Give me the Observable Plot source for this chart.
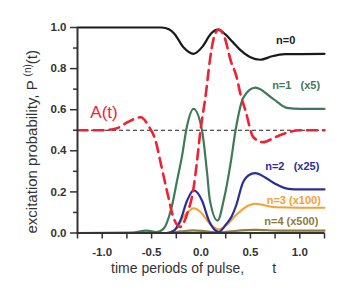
<!DOCTYPE html>
<html><head><meta charset="utf-8">
<script src="https://cdn.jsdelivr.net/npm/d3@7"></script>
<script src="https://cdn.jsdelivr.net/npm/@observablehq/plot@0.6"></script>
<style>body{margin:0;background:#fff}</style>
</head><body><div id="chart"></div>
<script>
// n=0
const t0 = [-1.25,-0.4,-0.32,-0.27,-0.18,-0.075,0.02,0.1,0.17,0.25,0.32,0.4,0.5,0.6,0.72,0.85,1.25];
const p0 = [1,1,0.99,0.97,0.905,0.872,0.91,0.97,0.99,0.965,0.93,0.89,0.855,0.843,0.86,0.87,0.872];
// n=1 (x5)
const t1 = [-1.25,-0.7,-0.55,-0.45,-0.38,-0.3,-0.24,-0.19,-0.15,-0.075,0.01,0.06,0.09,0.168,0.23,0.3,0.35,0.43,0.55,0.73,0.87,1.0,1.25];
const p1 = [0,0.002,0.012,0.004,0.02,0.12,0.26,0.38,0.5,0.604,0.5,0.3,0.16,0.06,0.16,0.34,0.5,0.66,0.707,0.653,0.609,0.604,0.604];
// n=2 (x25)
const t2 = [-1.25,-0.35,-0.28,-0.21,-0.14,-0.075,0.01,0.08,0.18,0.25,0.31,0.36,0.42,0.48,0.55,0.65,0.75,0.885,1.0,1.25];
const p2 = [0,0,0.01,0.06,0.158,0.207,0.158,0.06,0.006,0.04,0.08,0.14,0.24,0.28,0.291,0.27,0.24,0.215,0.212,0.212];
// n=3 (x100)
const t3 = [-1.25,-0.35,-0.3,-0.24,-0.18,-0.12,-0.075,0.0,0.08,0.18,0.25,0.35,0.48,0.55,0.75,1.0,1.25];
const p3 = [0,0,0.005,0.025,0.077,0.108,0.12,0.1,0.05,0.018,0.035,0.085,0.134,0.142,0.125,0.123,0.123];
// n=4 (x500)
const t4 = [-1.25,-0.35,-0.2,-0.08,0.05,0.18,0.3,0.55,0.8,1.25];
const p4 = [0,0,0.008,0.013,0.008,0.003,0.008,0.015,0.012,0.012];
// A(t)
const tA = [-1.25,-1.0,-0.85,-0.74,-0.61,-0.53,-0.46,-0.41,-0.33,-0.28,-0.21,-0.14,-0.075,-0.04,-0.01,0.05,0.09,0.13,0.18,0.24,0.3,0.36,0.4,0.45,0.53,0.63,0.75,0.885,1.0,1.25];
const pA = [0.5,0.5,0.51,0.54,0.563,0.52,0.45,0.345,0.174,0.077,0.03,0.093,0.22,0.35,0.48,0.68,0.84,0.95,0.99,0.95,0.84,0.76,0.675,0.596,0.466,0.442,0.466,0.49,0.5,0.5];

const yMajor = [0,0.2,0.4,0.6,0.8,1.0];
const yMinor = [0.1,0.3,0.5,0.7,0.9];
const xMajor = [-1,-0.5,0,0.5,1];
const xMinor = [-1.25,-0.75,-0.25,0.25,0.75,1.25];

const labels = ["n=0","n=1   (x5)","n=2   (x25)","n=3 (x100)","n=4 (x500)","A(t)"];
const colors = ["#1a1a1a","#3f7a58","#2b2e98","#f7a030","#8c7a3c","#ee2233"];

const tbl = (ts, ps) => ts.map((t,i)=>({t, v: ps[i]}));
const curve = "monotone-x";

const labelPos = [
  {t:0.76, v:0.935}, {t:0.72, v:0.716}, {t:0.65, v:0.322},
  {t:0.665, v:0.160}, {t:0.64, v:0.055}, {t:-1.12, v:0.585}
];
const labelData = labels.map((s,i)=>({s, c: colors[i], ...labelPos[i]}));

const plot = Plot.plot({
  width: 350, height: 301,
  marginLeft: 77, marginRight: 26, marginTop: 27, marginBottom: 68.5,
  style: {fontFamily: "'Liberation Sans', Arial, sans-serif", color: "#333", background: "#fff"},
  x: {domain: [-1.25, 1.25]},
  y: {domain: [0, 1]},
  marks: [
    Plot.ruleY([0.5], {stroke: "#222", strokeWidth: 1.1, strokeDasharray: "4,3"}),
    Plot.line(tbl(t0,p0), {x:"t", y:"v", stroke: colors[0], strokeWidth: 2.2, curve}),
    Plot.line(tbl(t1,p1), {x:"t", y:"v", stroke: colors[1], strokeWidth: 2.2, curve}),
    Plot.line(tbl(t4,p4), {x:"t", y:"v", stroke: colors[4], strokeWidth: 2.2, curve}),
    Plot.line(tbl(t3,p3), {x:"t", y:"v", stroke: colors[3], strokeWidth: 2.0, curve}),
    Plot.line(tbl(t2,p2), {x:"t", y:"v", stroke: colors[2], strokeWidth: 2.2, curve}),
    Plot.line(tbl(tA,pA), {x:"t", y:"v", stroke: colors[5], strokeWidth: 2.6, strokeDasharray: "10,6", curve}),
    Plot.ruleX([-1.25], {y1: 0, y2: 1, stroke: "#333", strokeWidth: 2}),
    Plot.ruleY([0], {stroke: "#333", strokeWidth: 2}),
    Plot.axisY({ticks: yMajor, tickFormat: d => d.toFixed(1), tickSize: 7, tickPadding: 4, fontSize: 11.5, fontWeight: "bold", label: null, strokeWidth: 1.5}),
    Plot.axisY({ticks: yMinor, tickSize: 4, text: null, label: null, strokeWidth: 1.5}),
    Plot.axisX({ticks: xMajor, tickFormat: d => d.toFixed(1), tickSize: 6, tickPadding: 9, fontSize: 11.5, fontWeight: "bold", label: null, strokeWidth: 1.5}),
    Plot.axisX({ticks: xMinor, tickSize: 6, text: null, label: null, strokeWidth: 1.5}),
    Plot.text(labelData.slice(0,5), {x:"t", y:"v", text:"s", fill:"c", textAnchor:"start", fontSize: 11, fontWeight:"bold"}),
    Plot.text(labelData.slice(5), {x:"t", y:"v", text:"s", fill:"c", textAnchor:"start", fontSize: 17}),
    Plot.text([{t:-0.91, v:-0.175, s:"time periods of pulse,"}, {t:0.72, v:-0.175, s:"t"}], {x:"t", y:"v", text:"s", textAnchor:"start", fontSize: 14, fill:"#333"})
  ]
});
document.getElementById("chart").append(plot);

// y-axis title with superscript
const ys = plot.scale("y");
const svg = d3.select(plot);
const yc = (ys.apply(0) + ys.apply(1)) / 2 + 12;
const tx = svg.append("text")
  .attr("transform", `translate(37,${yc}) rotate(-90)`)
  .attr("text-anchor", "middle")
  .attr("font-size", 15)
  .attr("fill", "#333")
  .attr("font-family", "'Liberation Sans', Arial, sans-serif");
tx.append("tspan").text("excitation probability, P ");
tx.append("tspan").attr("font-size", 10).attr("dy", -6).text("(n)");
tx.append("tspan").attr("dy", 6).text("(t)");
</script>
</body></html>
